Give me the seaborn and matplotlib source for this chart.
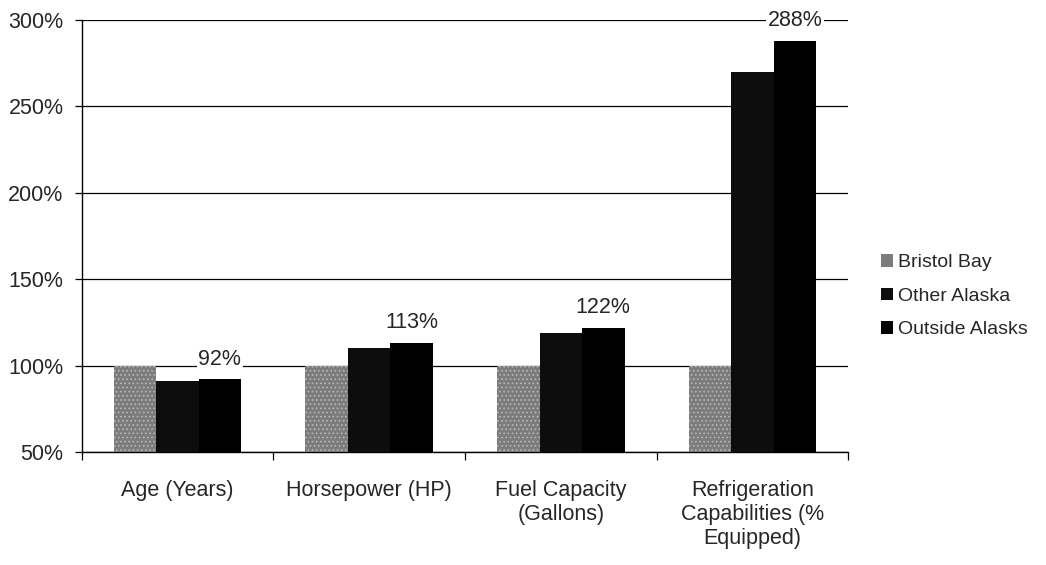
import matplotlib
matplotlib.use("Agg")
import matplotlib.pyplot as plt
import seaborn as sns
import pandas as pd
from matplotlib.ticker import FixedLocator, FuncFormatter

categories = ["Age (Years)", "Horsepower (HP)", "Fuel Capacity\n(Gallons)",
              "Refrigeration\nCapabilities (%\nEquipped)"]
series = ["Bristol Bay", "Other Alaska", "Outside Alasks"]
bristol_bay = [100, 100, 100, 100]
other_alaska = [91, 110, 119, 270]
outside_alaska = [92, 113, 122, 288]
y_ticks = [50, 100, 150, 200, 250, 300]

sns.set_theme(style="white")
plt.rcParams["font.family"] = ["Liberation Sans", "DejaVu Sans"]
plt.rcParams["hatch.linewidth"] = 0.7

df = pd.DataFrame({
    "category": categories * 3,
    "series": [series[0]] * 4 + [series[1]] * 4 + [series[2]] * 4,
    "value": bristol_bay + other_alaska + outside_alaska,
})

fig = plt.figure(figsize=(10.46, 5.65), dpi=100)
ax = fig.add_axes([0.078, 0.2, 0.733, 0.765])
palette = {series[0]: "#7c7c7c", series[1]: "#0d0d0d", series[2]: "#000000"}
sns.barplot(data=df, x="category", y="value", hue="series", order=categories,
            hue_order=series, palette=palette, width=0.665, gap=0,
            saturation=1, ax=ax, legend=True, zorder=3, linewidth=0)

for cont in ax.containers:
    for patch in cont:
        patch.set_linewidth(0)
for patch in ax.containers[0]:
    patch.set_hatch("....")
    patch.set_edgecolor("#b8b8b8")

ax.bar_label(ax.containers[2], labels=[f"{v}%" for v in outside_alaska],
             padding=7, fontsize=15.5,
             bbox=dict(facecolor="white", edgecolor="none", pad=1), zorder=5)

ax.set_ylim(50, 300)
ax.set_xlim(-0.5, 3.5)
ax.yaxis.set_major_locator(FixedLocator(y_ticks))
ax.yaxis.set_major_formatter(FuncFormatter(lambda v, p: f"{v:.0f}%"))
ax.grid(axis="y", color="black", linewidth=0.9, zorder=0)
ax.set_axisbelow(True)
ax.set_xlabel("")
ax.set_ylabel("")
for s in ["top", "right"]:
    ax.spines[s].set_visible(False)
for s in ["left", "bottom"]:
    ax.spines[s].set_color("black")
    ax.spines[s].set_linewidth(1.0)
ax.tick_params(axis="y", which="major", left=True, length=5, width=0.9,
               color="black", labelsize=15.5, pad=8)
ax.tick_params(axis="x", which="major", length=0, labelsize=15.5, pad=20)
ax.xaxis.set_minor_locator(FixedLocator([-0.5, 0.5, 1.5, 2.5, 3.5]))
ax.tick_params(axis="x", which="minor", bottom=True, length=6, width=0.9, color="black")

leg = ax.legend(loc="center left", bbox_to_anchor=(1.02, 0.36), frameon=False,
                fontsize=14, handlelength=0.6, handleheight=0.6,
                handletextpad=0.25, labelspacing=0.85)
for h in leg.legend_handles:
    h.set_linewidth(0)

fig.savefig("out.png", dpi=100)
